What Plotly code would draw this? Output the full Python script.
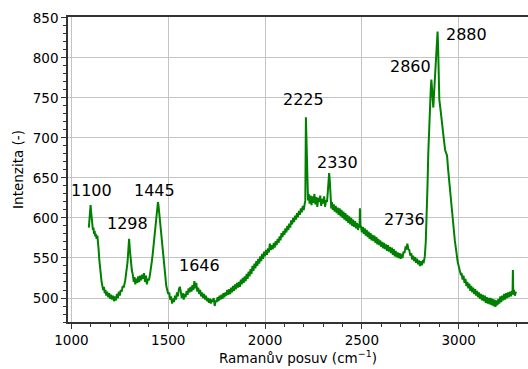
import plotly.graph_objects as go

# Raman spectrum
wavenumber = [
    1090, 1093, 1096, 1099, 1102, 1105, 1108, 1111, 1114, 1117, 1120, 1123, 1126, 1130, 1134, 1137,
    1140, 1144, 1148, 1152, 1156, 1160, 1164, 1168, 1172, 1176, 1180, 1185, 1190, 1195, 1200, 1205,
    1210, 1215, 1220, 1225, 1230, 1235, 1240, 1245, 1250, 1255, 1260, 1265, 1270, 1278, 1284, 1290,
    1294, 1298, 1302, 1306, 1312, 1318, 1322, 1326, 1330, 1335, 1340, 1345, 1350, 1355, 1360, 1365,
    1370, 1375, 1380, 1385, 1390, 1395, 1400, 1405, 1410, 1415, 1420, 1425, 1430, 1435, 1440, 1444,
    1447, 1450, 1454, 1458, 1462, 1466, 1470, 1474, 1478, 1482, 1486, 1490, 1495, 1500, 1505, 1510,
    1515, 1520, 1525, 1530, 1535, 1540, 1545, 1550, 1555, 1560, 1565, 1570, 1575, 1580, 1585, 1590,
    1595, 1600, 1605, 1610, 1615, 1620, 1625, 1630, 1635, 1640, 1645, 1650, 1655, 1660, 1665, 1670,
    1675, 1680, 1685, 1690, 1695, 1700, 1705, 1710, 1715, 1720, 1725, 1730, 1735, 1740, 1745, 1750,
    1755, 1760, 1765, 1770, 1775, 1780, 1785, 1790, 1795, 1800, 1805, 1810, 1815, 1820, 1825, 1830,
    1835, 1840, 1845, 1850, 1855, 1860, 1865, 1870, 1875, 1880, 1885, 1890, 1895, 1900, 1905, 1910,
    1915, 1920, 1925, 1930, 1935, 1940, 1945, 1950, 1955, 1960, 1965, 1970, 1975, 1980, 1985, 1990,
    1995, 2000, 2005, 2010, 2015, 2020, 2025, 2030, 2035, 2040, 2045, 2050, 2055, 2060, 2065, 2070,
    2075, 2080, 2085, 2090, 2095, 2100, 2105, 2110, 2115, 2120, 2125, 2130, 2135, 2140, 2145, 2150,
    2155, 2160, 2165, 2170, 2175, 2180, 2185, 2190, 2195, 2200, 2205, 2208, 2211, 2214, 2216, 2219,
    2222, 2226, 2230, 2235, 2240, 2245, 2250, 2255, 2260, 2265, 2270, 2275, 2280, 2285, 2290, 2295,
    2300, 2305, 2310, 2315, 2320, 2324, 2328, 2331, 2334, 2338, 2342, 2346, 2350, 2355, 2360, 2365,
    2370, 2375, 2380, 2385, 2390, 2395, 2400, 2405, 2410, 2415, 2420, 2425, 2430, 2435, 2440, 2445,
    2450, 2455, 2460, 2465, 2470, 2475, 2480, 2485, 2488, 2490, 2492, 2495, 2500, 2505, 2510, 2515,
    2520, 2525, 2530, 2535, 2540, 2545, 2550, 2555, 2560, 2565, 2570, 2575, 2580, 2585, 2590, 2595,
    2600, 2605, 2610, 2615, 2620, 2625, 2630, 2635, 2640, 2645, 2650, 2655, 2660, 2665, 2670, 2675,
    2680, 2685, 2690, 2695, 2700, 2705, 2710, 2715, 2720, 2725, 2730, 2735, 2740, 2745, 2750, 2755,
    2760, 2765, 2770, 2775, 2780, 2785, 2790, 2795, 2800, 2805, 2810, 2815, 2820, 2825, 2830, 2835,
    2839, 2843, 2847, 2852, 2856, 2859, 2862, 2866, 2869, 2872, 2876, 2880, 2884, 2888, 2891, 2894,
    2897, 2900, 2905, 2910, 2915, 2920, 2925, 2930, 2935, 2940, 2945, 2950, 2955, 2960, 2965, 2970,
    2975, 2980, 2985, 2990, 2995, 3000, 3005, 3010, 3015, 3020, 3025, 3030, 3035, 3040, 3045, 3050,
    3055, 3060, 3065, 3070, 3075, 3080, 3085, 3090, 3095, 3100, 3105, 3110, 3115, 3120, 3125, 3130,
    3135, 3140, 3145, 3150, 3155, 3160, 3165, 3170, 3175, 3180, 3185, 3190, 3195, 3200, 3205, 3210,
    3215, 3220, 3225, 3230, 3235, 3240, 3245, 3250, 3255, 3260, 3265, 3270, 3275, 3278, 3280, 3282,
    3285, 3290, 3296,
]

intensity = [
    588, 598, 610, 616, 607, 598, 592, 585, 588, 580, 584, 577, 580, 574, 578, 572,
    562, 548, 535, 527, 520, 515, 510, 514, 506, 510, 503, 508, 501, 506, 499, 504,
    498, 503, 496, 502, 497, 505, 500, 508, 503, 510, 508, 515, 513, 522, 531, 545,
    560, 574, 560, 548, 535, 528, 520, 526, 517, 524, 519, 527, 520, 528, 522, 529,
    524, 531, 520, 528, 517, 524, 522, 528, 535, 545, 555, 568, 580, 592, 606, 616,
    620, 615, 605, 597, 588, 575, 562, 550, 540, 531, 522, 515, 510, 505, 507, 498,
    502, 493, 499, 495, 503, 498, 507, 502, 511, 514, 508, 500, 506, 498, 505, 501,
    509, 504, 512, 507, 514, 508, 516, 510, 521, 512, 519, 508, 513, 505, 510, 502,
    507, 500, 505, 498, 503, 496, 500, 494, 499, 493, 498, 495, 500, 490, 497, 495,
    501, 496, 503, 498, 504, 499, 506, 501, 507, 503, 510, 504, 511, 505, 513, 507,
    515, 509, 517, 511, 519, 513, 520, 514, 523, 517, 525, 519, 527, 521, 530, 524,
    533, 527, 536, 530, 540, 534, 543, 537, 546, 540, 549, 543, 552, 546, 555, 549,
    558, 552, 560, 554, 562, 557, 568, 560, 566, 561, 569, 563, 571, 566, 574, 569,
    577, 572, 581, 576, 584, 579, 587, 582, 590, 585, 593, 588, 597, 592, 600, 595,
    603, 598, 606, 601, 609, 604, 612, 607, 615, 610, 618, 622, 726, 700, 690, 660,
    622, 630, 618, 628, 616, 627, 619, 630, 617, 626, 614, 625, 620, 628, 615, 624,
    618, 627, 614, 622, 620, 632, 650, 656, 648, 628, 612, 620, 610, 617, 608, 615,
    606, 613, 604, 612, 602, 610, 600, 608, 598, 606, 596, 604, 594, 602, 592, 600,
    590, 598, 589, 596, 587, 594, 585, 592, 590, 612, 588, 590, 582, 589, 580, 587,
    578, 585, 576, 583, 574, 581, 572, 579, 571, 578, 569, 576, 567, 574, 566, 572,
    564, 570, 562, 569, 561, 567, 559, 566, 558, 564, 556, 563, 554, 561, 552, 559,
    551, 557, 550, 556, 549, 555, 550, 558, 556, 563, 562, 568, 561, 560, 553, 556,
    548, 553, 546, 551, 544, 549, 542, 547, 540, 546, 541, 546, 545, 552, 570, 600,
    640, 681, 715, 744, 762, 773, 762, 740, 738, 752, 770, 790, 805, 822, 833, 812,
    770, 748, 738, 725, 715, 705, 695, 685, 682, 678, 662, 648, 632, 617, 605, 597,
    585, 572, 560, 552, 545, 540, 534, 530, 531, 523, 528, 519, 524, 515, 520, 512,
    518, 509, 515, 507, 513, 505, 511, 503, 509, 501, 507, 499, 505, 497, 504, 496,
    503, 494, 501, 493, 500, 492, 500, 491, 499, 490, 498, 489, 497, 491, 499, 493,
    502, 495, 503, 497, 505, 498, 506, 500, 507, 501, 508, 502, 509, 504, 535, 505,
    510, 503, 508,
]

# Peak labels (text, x, y in data units)
peak_labels = ["1100", "1445", "1298", "1646", "2225", "2330", "2736", "2860", "2880"]
label_x = [1105, 1430, 1291, 1663, 2200, 2376, 2722, 2753, 3038]
label_y = [634, 634, 593, 540, 748, 669, 598, 789, 829]

x_ticks = [1000, 1500, 2000, 2500, 3000]
y_ticks = [500, 550, 600, 650, 700, 750, 800, 850]

x_title = "Ramanův posuv (cm<sup>−1</sup>)"
y_title = "Intenzita (-)"

font_family = "DejaVu Sans"

fig = go.Figure()
fig.add_trace(go.Scatter(
    x=wavenumber, y=intensity, mode="lines",
    line=dict(color="#008000", width=2),
    showlegend=False, hoverinfo="skip",
))

for txt, lx, ly in zip(peak_labels, label_x, label_y):
    fig.add_annotation(x=lx, y=ly, text=txt, showarrow=False,
                       xanchor="center", yanchor="middle",
                       font=dict(family=font_family, size=16, color="#000000"))

# x-axis title placed below the tick labels
fig.add_annotation(x=0.5, y=-0.116, xref="paper", yref="paper", text=x_title,
                   showarrow=False, xanchor="center", yanchor="middle",
                   font=dict(family=font_family, size=13.5, color="#000000"))

fig.update_layout(
    width=528, height=369,
    margin=dict(l=68, r=0, t=17, b=47, autoexpand=False),
    plot_bgcolor="white", paper_bgcolor="white",
    font=dict(family=font_family, size=13.5, color="#000000"),
    showlegend=False,
)

fig.update_xaxes(
    range=[982.4, 3358],
    tickvals=x_ticks, ticktext=[str(v) for v in x_ticks],
    ticks="outside", ticklen=5, tickwidth=1, tickcolor="#333333",
    showgrid=True, gridcolor="#c4c4c4", gridwidth=1,
    showline=True, linecolor="#333333", linewidth=1.5, mirror=True,
    zeroline=False, automargin=False,
    minor=dict(dtick=100, tick0=1000, ticks="outside", ticklen=3, tickcolor="#333333", showgrid=False),
)

fig.update_yaxes(
    range=[470, 851.2],
    tickvals=y_ticks, ticktext=[str(v) for v in y_ticks],
    ticks="outside", ticklen=5, tickwidth=1, tickcolor="#333333",
    showgrid=True, gridcolor="#c4c4c4", gridwidth=1,
    showline=True, linecolor="#333333", linewidth=1.5, mirror=False,
    zeroline=False, automargin=False,
    minor=dict(dtick=10, tick0=500, ticks="outside", ticklen=3, tickcolor="#333333", showgrid=False),
    title=dict(text=y_title, standoff=6,
               font=dict(family=font_family, size=13.5)),
)

fig.write_html("out.html")
